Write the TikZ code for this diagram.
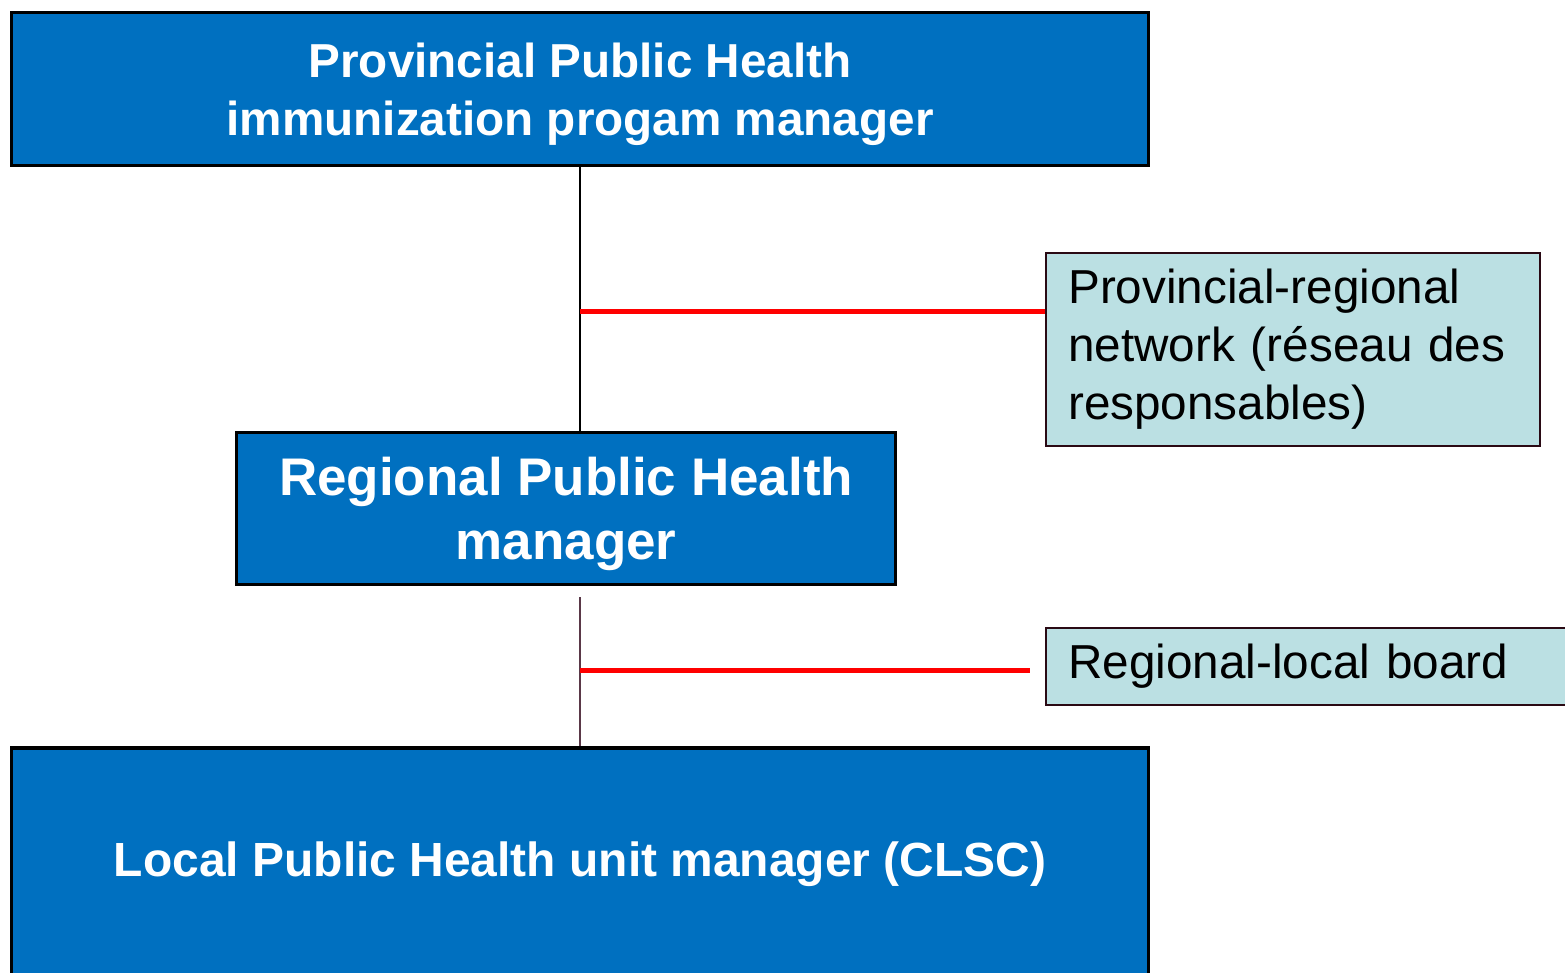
\documentclass[tikz,border=0pt]{standalone}
\usepackage{fontspec}
\setmainfont{Liberation Sans}
\usepackage{xcolor}
\definecolor{myblue}{HTML}{0070C0}
\definecolor{mycyan}{HTML}{BBE0E3}
\definecolor{mymaro}{HTML}{2A0A14}
\definecolor{mystem}{HTML}{5A3848}
\usepackage{tikz}
\usetikzlibrary{positioning}
\tikzstyle{manager} = [rectangle, text centered, draw=black, line width=0.9pt, fill=myblue, text=white, font=\bfseries]
\tikzstyle{network} = [rectangle, align=left, anchor=west, inner xsep=0.22cm, draw=mymaro, line width=0.6pt, fill=mycyan, text=black, font=\fontsize{13.56}{16.5}\selectfont]
\tikzstyle{trunk} = [line width=0.5pt, black]
\tikzstyle{stem} = [line width=0.5pt, mystem]
\tikzstyle{tie} = [line width=1.4pt, red]

\begin{document}
\begin{tikzpicture}[align=center]
	\node (provincial)[manager, minimum width=11.37cm, minimum height=1.53cm, font=\bfseries\fontsize{13.56}{16.5}\selectfont]{\raisebox{-0.185cm}[0.6cm][0.6cm]{\begin{tabular}{@{}c@{}}Provincial Public Health\\immunization progam manager\end{tabular}}};
	\useasboundingbox ([xshift=-0.1cm,yshift=0.11cm]provincial.north west) rectangle ++(15.65,-9.72);
	\clip ([xshift=-0.1cm,yshift=0.11cm]provincial.north west) rectangle ++(15.65,-9.72);
	\node (regional)[manager, minimum width=6.59cm, minimum height=1.52cm, below=2.64cm of provincial, xshift=-0.14cm, font=\bfseries\fontsize{15.07}{18.2}\selectfont]{\raisebox{-0.19cm}[0.6cm][0.6cm]{\begin{tabular}{@{}c@{}}Regional Public Health\\manager\end{tabular}}};
	\node (local)[manager, minimum width=11.37cm, minimum height=2.32cm, below=1.60cm of regional, xshift=0.14cm, font=\bfseries\fontsize{13.64}{16.5}\selectfont]{Local Public Health unit manager (CLSC)};
	\node (network)[network, text width=4.5cm, minimum height=1.93cm, right=1.48cm of regional, yshift=1.595cm]{Provincial-regional\\network (réseau des\\responsables)};
	\node (board)[network, text width=4.96cm, minimum height=0.77cm, right=1.48cm of regional, yshift=-1.575cm]{Regional-local board};
	\coordinate (tap1) at ([yshift=-1.44cm]provincial.south);
	\coordinate (top2) at ([yshift=1.49cm]local.north);
	\coordinate (tap2) at ([yshift=0.76cm]local.north);
	\draw [trunk] (provincial.south) -- (provincial.south |- regional.north);
	\draw [stem] (top2) -- (local.north);
	\draw [tie] (tap1) -- (tap1 -| network.west);
	\draw [tie] (tap2) -- ([xshift=-0.15cm]tap2 -| board.west);
\end{tikzpicture}
\end{document}
